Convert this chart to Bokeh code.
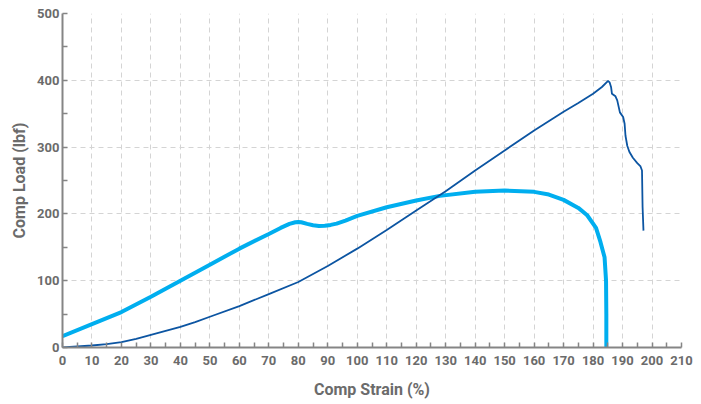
from bokeh.plotting import figure
from bokeh.embed import file_html
from bokeh.resources import INLINE
from bokeh.models import FixedTicker, Range1d

# --- data ---
strain_dark = [0, 5, 10, 15, 20, 25, 30, 35, 40, 45, 50, 60, 70, 80, 90, 100, 110, 120, 130,
               140, 150, 160, 170, 175, 180, 183, 185.1, 185.6, 186.1, 186.4, 187.6, 188.2,
               189.1, 190.2, 190.7, 191.0, 191.6, 192.3, 193.5, 195.0, 196.1, 196.6, 196.8, 197.1]
load_dark = [0, 1.5, 3, 5, 8, 13, 19, 25, 31, 38, 46, 62, 80, 98, 122, 148, 176, 205, 234,
             265, 295, 325, 353, 366, 380, 390, 399, 397, 390, 380, 376, 370,
             352, 345, 335, 317, 302, 293, 284, 276, 271, 265, 210, 175]

strain_light = [0, 10, 20, 30, 40, 50, 60, 70, 74, 77, 79, 80, 81, 83, 85, 87, 89, 91, 93, 96,
                100, 110, 120, 128, 140, 150, 160, 165, 170, 175, 178, 181, 182.5, 183.9,
                184.4, 184.5, 184.5]
load_light = [17, 35, 53, 76, 100, 124, 148, 170, 179, 185, 187.5, 188, 187.5, 185, 183, 182,
              182.3, 183.5, 185.5, 190, 197, 210, 220, 227, 233, 235, 233, 229, 221, 209,
              198, 179, 158, 135, 100, 50, 0]

x_ticks = list(range(0, 211, 10))
y_ticks = [0, 100, 200, 300, 400, 500]
x_grid = list(range(10, 211, 10))
y_grid = [100, 200, 300, 400]

FONT = "Roboto"
GRAY = "#6b6b6b"

p = figure(width=701, height=404, output_backend="svg", toolbar_location=None,
           x_range=Range1d(0, 210), y_range=Range1d(0, 500),
           min_border_left=62, min_border_right=20, min_border_top=13, min_border_bottom=57)
p.outline_line_color = None
p.background_fill_color = "white"

p.line(strain_light, load_light, line_color="#00aeef", line_width=4)
p.line(strain_dark, load_dark, line_color="#0c55a2", line_width=1.8)

p.xaxis.ticker = FixedTicker(ticks=x_ticks, minor_ticks=[v + 5 for v in x_ticks[:-1]])
p.yaxis.ticker = FixedTicker(ticks=y_ticks, minor_ticks=[v + 50 for v in y_ticks[:-1]])
p.xgrid.ticker = FixedTicker(ticks=x_grid)
p.ygrid.ticker = FixedTicker(ticks=y_grid)
for g in (p.xgrid, p.ygrid):
    g.grid_line_color = "#d4d4d4"
    g.grid_line_dash = "5 4"
    g.grid_line_width = 1

for ax in (p.xaxis, p.yaxis):
    ax.axis_line_color = "#858585"
    ax.axis_line_width = 2
    ax.major_tick_line_color = "#858585"
    ax.minor_tick_line_color = "#858585"
    ax.major_tick_line_width = 1.5
    ax.minor_tick_line_width = 1.5
    ax.major_tick_in = 5
    ax.major_tick_out = 0
    ax.minor_tick_in = 5
    ax.minor_tick_out = 0
    ax.major_label_text_font = FONT
    ax.major_label_text_font_style = "bold"
    ax.major_label_text_font_size = "13px"
    ax.major_label_text_color = GRAY
    ax.axis_label_text_font = FONT
    ax.axis_label_text_font_style = "bold"
    ax.axis_label_text_font_size = "16px"
    ax.axis_label_text_color = GRAY

p.xaxis.axis_label = "Comp Strain (%)"
p.yaxis.axis_label = "Comp Load (lbf)"
p.xaxis.major_label_standoff = 8
p.yaxis.major_label_standoff = 3
p.xaxis.axis_label_standoff = 12
p.yaxis.axis_label_standoff = 5

open("out.html", "w").write(file_html(p, INLINE))
